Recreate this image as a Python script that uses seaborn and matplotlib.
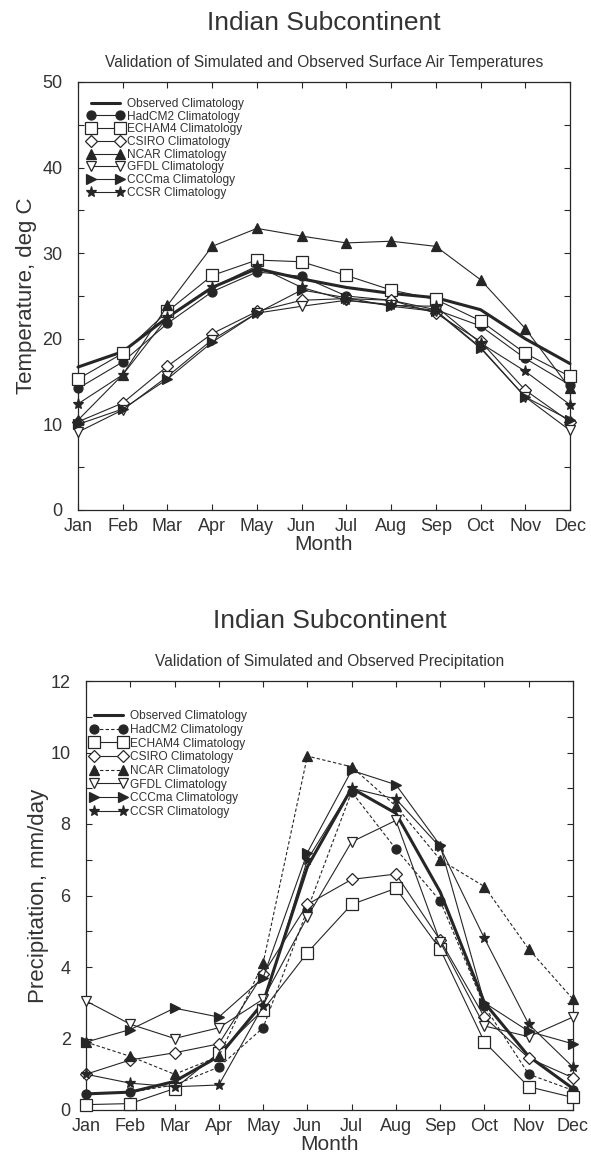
import numpy as np
import pandas as pd
import matplotlib
matplotlib.use("Agg")
import matplotlib.pyplot as plt
import seaborn as sns
from matplotlib.ticker import MultipleLocator, FixedLocator

# ---------------------------------------------------------------------------
# Monthly climatologies for the Indian subcontinent
# ---------------------------------------------------------------------------
months = ["Jan", "Feb", "Mar", "Apr", "May", "Jun",
          "Jul", "Aug", "Sep", "Oct", "Nov", "Dec"]

series_names = ["Observed", "HadCM2", "ECHAM4", "CSIRO",
                "NCAR", "GFDL", "CCCma", "CCSR"]

# Surface air temperature, deg C
temp_observed = [16.7, 18.5, 22.5, 26.0, 28.2, 27.0, 26.0, 25.3, 24.8, 23.4, 20.0, 17.1]
temp_hadcm2   = [14.2, 17.3, 21.8, 25.5, 27.8, 27.3, 25.0, 24.5, 23.4, 21.5, 17.7, 14.6]
temp_echam4   = [15.3, 18.3, 23.2, 27.4, 29.2, 29.0, 27.4, 25.7, 24.6, 22.1, 18.3, 15.6]
temp_csiro    = [10.3, 12.5, 16.8, 20.6, 23.2, 24.5, 24.7, 24.5, 23.0, 19.7, 14.0, 10.3]
temp_ncar     = [10.5, 15.8, 23.9, 30.8, 32.9, 32.0, 31.2, 31.4, 30.8, 26.9, 21.2, 14.2]
temp_gfdl     = [9.1, 11.7, 15.6, 19.9, 23.0, 23.8, 24.5, 24.0, 23.3, 19.0, 13.2, 9.3]
temp_cccma    = [10.0, 11.8, 15.3, 19.6, 23.0, 25.7, 24.8, 23.8, 23.2, 18.9, 13.2, 10.5]
temp_ccsr     = [12.4, 15.8, 22.5, 26.0, 28.5, 26.0, 24.5, 23.9, 23.8, 19.5, 16.2, 12.3]

# Precipitation, mm/day
prec_observed = [0.45, 0.5, 0.8, 1.5, 3.0, 6.8, 9.0, 8.3, 6.1, 3.0, 1.5, 0.6]
prec_hadcm2   = [0.45, 0.5, 0.7, 1.2, 2.3, 5.6, 8.9, 7.3, 5.85, 2.9, 1.0, 0.55]
prec_echam4   = [0.15, 0.18, 0.6, 1.6, 2.8, 4.4, 5.75, 6.2, 4.5, 1.9, 0.65, 0.35]
prec_csiro    = [1.0, 1.4, 1.6, 1.85, 3.8, 5.75, 6.45, 6.6, 4.75, 2.6, 1.45, 0.9]
prec_ncar     = [1.9, 1.5, 1.0, 1.5, 4.1, 9.9, 9.6, 8.5, 7.0, 6.25, 4.5, 3.1]
prec_gfdl     = [3.05, 2.4, 2.0, 2.3, 3.1, 5.4, 7.5, 8.1, 4.7, 2.35, 2.05, 2.6]
prec_cccma    = [1.9, 2.25, 2.85, 2.6, 3.7, 7.2, 9.5, 9.1, 7.4, 3.0, 2.2, 1.85]
prec_ccsr     = [1.0, 0.75, 0.65, 0.7, 2.9, 7.0, 9.0, 8.7, 7.35, 4.8, 2.4, 1.2]

temperature = dict(zip(series_names, [temp_observed, temp_hadcm2, temp_echam4, temp_csiro,
                                      temp_ncar, temp_gfdl, temp_cccma, temp_ccsr]))
precipitation = dict(zip(series_names, [prec_observed, prec_hadcm2, prec_echam4, prec_csiro,
                                        prec_ncar, prec_gfdl, prec_cccma, prec_ccsr]))

# ---------------------------------------------------------------------------
# Styling
# ---------------------------------------------------------------------------
sns.set_theme(style="ticks")
plt.rcParams["font.family"] = ["Liberation Sans", "DejaVu Sans"]

INK = "#262626"
TEXT = "#333333"

marker_styles = {
    "Observed": dict(marker=None, lw=2.2),
    "HadCM2": dict(marker="o", ms=6.5, mfc=INK),
    "ECHAM4": dict(marker="s", ms=8.0, mfc="white"),
    "CSIRO":  dict(marker="D", ms=5.8, mfc="white"),
    "NCAR":   dict(marker="^", ms=6.5, mfc=INK),
    "GFDL":   dict(marker="v", ms=7.0, mfc="white"),
    "CCCma":  dict(marker=">", ms=6.5, mfc=INK),
    "CCSR":   dict(marker="*", ms=8.0, mfc=INK),
}


def draw_panel(ax, data, ylim, major, minor, ylabel, subtitle, dashed=(), ylabelpad=4):
    x = np.arange(len(months))
    for name in series_names:
        st = marker_styles[name]
        frame = pd.DataFrame({"month": x, "value": data[name]})
        kws = dict(color=INK, lw=st.get("lw", 0.8))
        if st["marker"] is not None:
            kws.update(marker=st["marker"], markersize=st["ms"],
                       markerfacecolor=st["mfc"], markeredgecolor=INK,
                       markeredgewidth=0.9)
        n_before = len(ax.get_lines())
        sns.lineplot(data=frame, x="month", y="value", ax=ax, sort=False,
                     errorbar=None, label=f"{name} Climatology",
                     clip_on=False, zorder=3, **kws)
        if name in dashed:
            for ln in ax.get_lines()[n_before:]:
                ln.set_dashes((3, 2))

    ax.set_xlim(0, 11)
    ax.set_ylim(*ylim)
    ax.xaxis.set_major_locator(FixedLocator(x))
    ax.set_xticklabels(months)
    ax.yaxis.set_major_locator(MultipleLocator(major))
    ax.yaxis.set_minor_locator(MultipleLocator(minor))
    ax.tick_params(which="both", direction="in", top=True, right=True,
                   length=4, width=0.8, color=INK, labelsize=13,
                   labelcolor=TEXT)
    ax.tick_params(axis="x", pad=6)
    ax.tick_params(axis="y", pad=11)
    for sp in ax.spines.values():
        sp.set_color(INK)
        sp.set_linewidth(0.9)
    ax.set_xlabel("Month", fontsize=15, color=TEXT, labelpad=0)
    ax.set_ylabel(ylabel, fontsize=16, color=TEXT, labelpad=ylabelpad)
    ax.set_title(subtitle, fontsize=11.2, color=TEXT, pad=11)

    handles = ax.get_lines()[:len(series_names)]
    labels = [h.get_label() for h in handles]
    return handles, labels


fig = plt.figure(figsize=(5.91, 11.53), dpi=100)
fig.patch.set_facecolor("white")

W, H = 591, 1153
T_LEFT, T_RIGHT, T_TOP, T_BOTTOM = 78, 570, 82, 510
P_LEFT, P_RIGHT, P_TOP, P_BOTTOM = 86, 573, 681, 1110
ax_t = fig.add_axes([T_LEFT / W, 1 - T_BOTTOM / H,
                     (T_RIGHT - T_LEFT) / W, (T_BOTTOM - T_TOP) / H])
ax_p = fig.add_axes([P_LEFT / W, 1 - P_BOTTOM / H,
                     (P_RIGHT - P_LEFT) / W, (P_BOTTOM - P_TOP) / H])

h, l = draw_panel(ax_t, temperature, (0, 50), 10, 5, "Temperature, deg C",
                  "Validation of Simulated and Observed Surface Air Temperatures")
ax_t.legend(h, l, loc="upper left", bbox_to_anchor=(0.02, 0.963),
            frameon=False, numpoints=2, fontsize=8.6, handlelength=3.0,
            handletextpad=0.3, labelspacing=0.06, borderpad=0,
            borderaxespad=0, labelcolor=TEXT)

h, l = draw_panel(ax_p, precipitation, (0, 12), 2, 1, "Precipitation, mm/day",
                  "Validation of Simulated and Observed Precipitation",
                  dashed=("HadCM2", "NCAR"), ylabelpad=1)
ax_p.legend(h, l, loc="upper left", bbox_to_anchor=(0.01, 0.932),
            frameon=False, numpoints=2, fontsize=8.6, handlelength=3.0,
            handletextpad=0.3, labelspacing=0.14, borderpad=0,
            borderaxespad=0, labelcolor=TEXT)

fig.text((T_LEFT + T_RIGHT) / 2 / W, 1 - 23 / H, "Indian Subcontinent",
         ha="center", va="center", fontsize=19, color=TEXT)
fig.text((P_LEFT + P_RIGHT) / 2 / W, 1 - 621 / H, "Indian Subcontinent",
         ha="center", va="center", fontsize=19, color=TEXT)

fig.savefig("out.png", dpi=100, facecolor="white")
